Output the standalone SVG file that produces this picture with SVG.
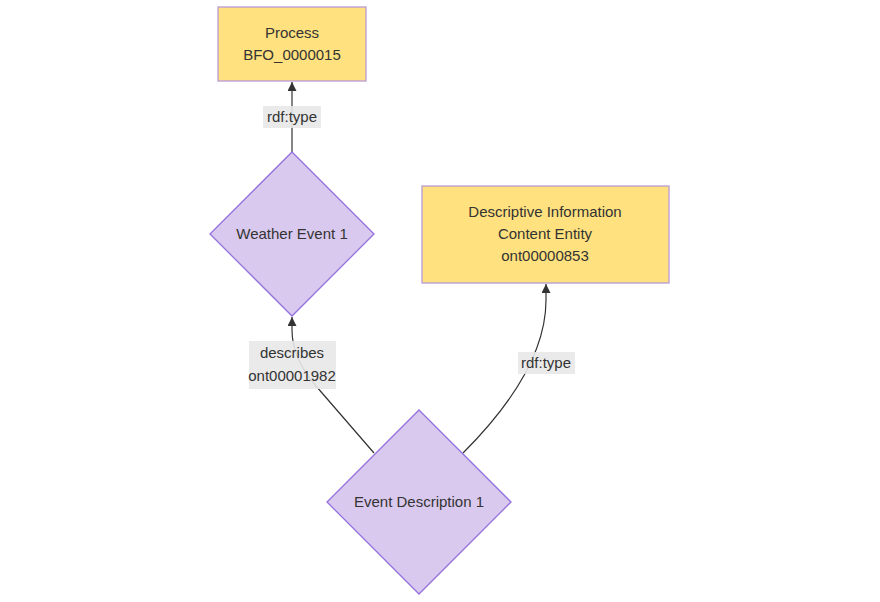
<svg xmlns="http://www.w3.org/2000/svg" width="880" height="602" viewBox="0 0 880 602">
<style>
text{font-family:"Liberation Sans","DejaVu Sans",Arial,sans-serif;font-size:15px;fill:#333;text-anchor:middle;dominant-baseline:central}
.box{fill:#ffe17f;stroke:#b89ad6;stroke-width:1.3}
.dia{fill:#dac9ee;stroke:#9370db;stroke-width:1.3}
.edge{fill:none;stroke:#333;stroke-width:1.2}
.lbl{fill:#e8e8e8;opacity:0.9}
</style>
<defs>
<marker id="arr" viewBox="0 0 10 10" refX="10" refY="5" markerWidth="9" markerHeight="9" markerUnits="userSpaceOnUse" orient="auto">
<path d="M0,0 L10,5 L0,10 z" fill="#333"/>
</marker>
</defs>
<rect width="880" height="602" fill="#fff"/>
<g id="connectors">
<path class="edge" d="M292,152 L292,82" marker-end="url(#arr)"/>
<path class="edge" d="M374,453 L316,386 Q292,358 292,330 L292,317" marker-end="url(#arr)"/>
<path class="edge" d="M463,453 Q546,370 546,300 L546,284" marker-end="url(#arr)"/>
<rect class="lbl" x="263" y="106" width="58" height="22"/>
<text x="292" y="116">rdf:type</text>
<rect class="lbl" x="249" y="341" width="87" height="48"/>
<text x="292" y="352">describes</text>
<text x="292" y="375">ont00001982</text>
<rect class="lbl" x="518" y="352" width="57" height="22"/>
<text x="546" y="362">rdf:type</text>
</g>
<g id="process">
<rect class="box" x="218" y="7" width="148" height="74"/>
<text x="292" y="32">Process</text>
<text x="292" y="54">BFO_0000015</text>
</g>
<g id="dice">
<rect class="box" x="422" y="186" width="247" height="97"/>
<text x="545" y="211">Descriptive Information</text>
<text x="545" y="233">Content Entity</text>
<text x="545" y="255">ont00000853</text>
</g>
<g id="weather">
<polygon class="dia" points="292,152 374,234 292,316 210,234"/>
<text x="292" y="233">Weather Event 1</text>
</g>
<g id="eventdesc">
<polygon class="dia" points="419,410 511,502 419,594 327,502"/>
<text x="419" y="501">Event Description 1</text>
</g>
</svg>
